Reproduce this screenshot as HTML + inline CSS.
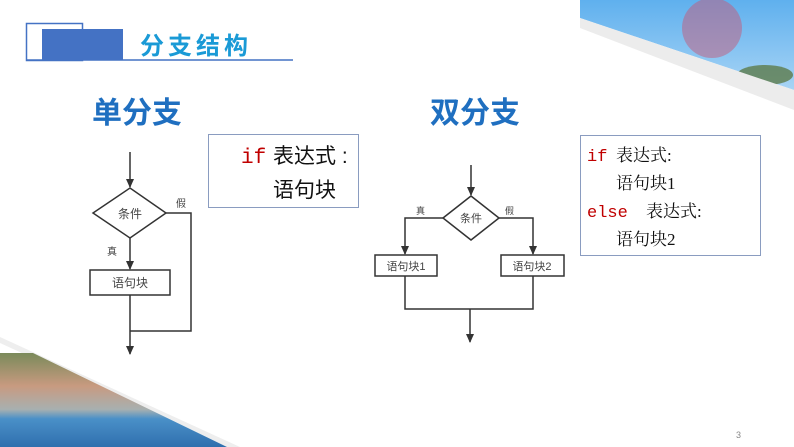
<!DOCTYPE html>
<html><head><meta charset="utf-8"><style>
body{margin:0;width:794px;height:447px;overflow:hidden;background:#fff}
svg{display:block}
.cj{font-family:"Liberation Sans","Noto Sans CJK SC",sans-serif}
.sf{font-family:"Liberation Serif","Noto Serif CJK SC",serif}
</style></head><body>
<svg width="794" height="447" viewBox="0 0 794 447">
<defs>
<linearGradient id="sky" x1="0" y1="0" x2="0" y2="1"><stop offset="0" stop-color="#5fb0ee"/><stop offset="1" stop-color="#a8d4f5"/></linearGradient>
<linearGradient id="pool" x1="0" y1="0" x2="0" y2="1"><stop offset="0" stop-color="#7a8a5a"/><stop offset="0.35" stop-color="#c89a80"/><stop offset="0.6" stop-color="#a8b0b0"/><stop offset="0.7" stop-color="#4a90c8"/><stop offset="1" stop-color="#2f6fae"/></linearGradient>
<marker id="ah" markerWidth="10" markerHeight="10" refX="8" refY="5" orient="auto" markerUnits="userSpaceOnUse"><path d="M0,1 L9,5 L0,9 Z" fill="#333"/></marker>
</defs>
<!-- top-right photo -->
<polygon points="580,0 794,0 794,90 580,18" fill="url(#sky)"/>
<circle cx="712" cy="28" r="30" fill="#c45a7a" opacity="0.5"/>
<ellipse cx="765" cy="75" rx="28" ry="10" fill="#5c7a4a" opacity="0.8"/>
<polygon points="580,18 794,90 794,110 580,28" fill="#ececec"/>
<!-- bottom-left photo -->
<polygon points="0,337 240,447 227,447 0,343" fill="#eeeeee"/>
<polygon points="0,353 33,353 227,447 0,447" fill="url(#pool)"/>
<!-- header -->
<rect x="26.5" y="23.5" width="56" height="37" fill="none" stroke="#4472c4" stroke-width="1.5"/>
<rect x="42" y="29" width="81" height="31" fill="#4472c4"/>
<line x1="26" y1="60" x2="293" y2="60" stroke="#4472c4" stroke-width="1.5"/>
<text x="140" y="54" class="cj" font-size="24" font-weight="bold" fill="#1a9ad6" letter-spacing="4">分支结构</text>
<!-- titles -->
<text x="92" y="123" class="cj" font-size="30" font-weight="bold" fill="#1f6fc0">单分支</text>
<text x="430" y="123" class="cj" font-size="30" font-weight="bold" fill="#1f6fc0">双分支</text>
<g stroke="#333" stroke-width="1.5" fill="none">
<line x1="130" y1="152" x2="130" y2="187" marker-end="url(#ah)"/>
<polygon points="93,213 130,188 166,213 130,238" fill="#fff"/>
<polyline points="166,213 191,213 191,331 130,331"/>
<line x1="130" y1="238" x2="130" y2="269" marker-end="url(#ah)"/>
<rect x="90" y="270" width="80" height="25" fill="#fff"/>
<line x1="130" y1="295" x2="130" y2="354" marker-end="url(#ah)"/>
<line x1="471" y1="165" x2="471" y2="195" marker-end="url(#ah)"/>
<polygon points="443,218 471,196 499,218 471,240" fill="#fff"/>
<polyline points="443,218 405,218 405,254" marker-end="url(#ah)"/>
<polyline points="499,218 533,218 533,254" marker-end="url(#ah)"/>
<rect x="375" y="255" width="62" height="21" fill="#fff"/>
<rect x="501" y="255" width="63" height="21" fill="#fff"/>
<polyline points="405,276 405,309 533,309 533,276"/>
<line x1="470" y1="309" x2="470" y2="342" marker-end="url(#ah)"/>
</g>
<g class="cj" fill="#444">
<text x="130" y="218" font-size="12" text-anchor="middle">条件</text>
<text x="176" y="207" font-size="10">假</text>
<text x="107" y="255" font-size="10">真</text>
<text x="130" y="287" font-size="12" text-anchor="middle">语句块</text>
<text x="471" y="222" font-size="11" text-anchor="middle">条件</text>
<text x="416" y="214" font-size="9">真</text>
<text x="505" y="214" font-size="9">假</text>
<text x="406" y="270" font-size="11" text-anchor="middle">语句块1</text>
<text x="532" y="270" font-size="11" text-anchor="middle">语句块2</text>
</g>
<rect x="208.5" y="134.5" width="150" height="73" fill="#fff" stroke="#8a9cc0" stroke-width="1"/>
<text x="241" y="163" font-family="Liberation Mono,monospace" font-size="21" fill="#c00000">if</text>
<text x="273" y="163" class="cj" font-size="21" fill="#111">表达式 :</text>
<text x="273" y="197" class="cj" font-size="21" fill="#111">语句块</text>
<rect x="580.5" y="135.5" width="180" height="120" fill="#fff" stroke="#8a9cc0" stroke-width="1"/>
<text x="587" y="161" font-family="Liberation Mono,monospace" font-size="17" fill="#c00000">if</text>
<text x="616" y="161" class="sf" font-size="17" fill="#111">表达式:</text>
<text x="616" y="189" class="sf" font-size="17" fill="#111">语句块1</text>
<text x="587" y="217" font-family="Liberation Mono,monospace" font-size="17" fill="#c00000">else</text>
<text x="646" y="217" class="sf" font-size="17" fill="#111">表达式:</text>
<text x="616" y="245" class="sf" font-size="17" fill="#111">语句块2</text>
<text x="736" y="438" font-family="Liberation Sans,sans-serif" font-size="9" fill="#888">3</text>
</svg>
</body></html>
